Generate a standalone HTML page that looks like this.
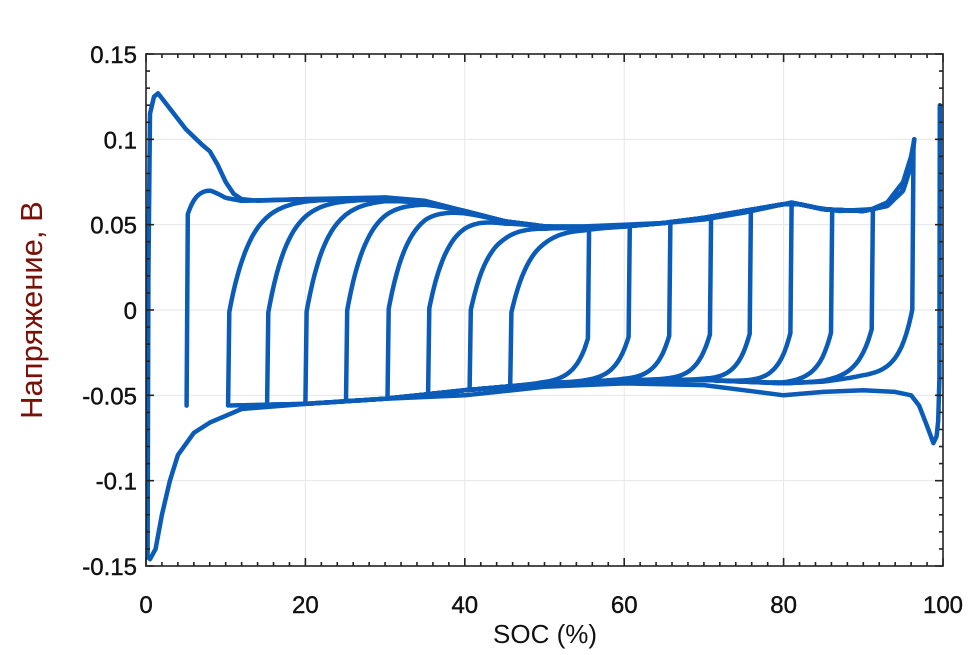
<!DOCTYPE html>
<html><head><meta charset="utf-8"><style>
body{margin:0;background:#fff;width:980px;height:655px;overflow:hidden}
svg{display:block}
text{font-family:"Liberation Sans",sans-serif}
</style></head><body>
<svg id="chart" width="980" height="655"></svg>
<script>
// ---- data ----
const outerChargeX=[0.2,0.25,0.3,0.5,1,1.5,3,5,7,8,9,10,11,12,14,20,30,35,40,45,50,55,60,65,70,75,80,81,84,87,91,93,95,96,96.4];
const outerChargeY=[-0.145,-0.06,0.02,0.115,0.125,0.127,0.118,0.106,0.097,0.093,0.085,0.075,0.068,0.065,0.064,0.065,0.066,0.064,0.058,0.052,0.049,0.049,0.05,0.051,0.053,0.057,0.062,0.063,0.06,0.058,0.059,0.063,0.075,0.09,0.1];
const outerDischargeX=[99.6,99.55,99.4,99.2,98.8,98,97,96,94,90,85,80,75,70,60,50,40,30,20,12,10,8,6,4,3,2,1.2,0.5];
const outerDischargeY=[0.12,-0.04,-0.065,-0.074,-0.078,-0.068,-0.056,-0.05,-0.048,-0.047,-0.048,-0.05,-0.047,-0.044,-0.043,-0.045,-0.05,-0.052,-0.055,-0.058,-0.062,-0.066,-0.072,-0.085,-0.1,-0.12,-0.14,-0.146];
const upperX=[5,8,10,12,20,30,35,40,45,50,55,60,65,70,75,80,82,85,90,93,95,96,96.4];
const upperY=[0.076,0.072,0.066,0.064,0.065,0.065,0.063,0.058,0.052,0.049,0.048,0.049,0.051,0.054,0.058,0.062,0.062,0.059,0.058,0.061,0.07,0.085,0.1];
const lowerX=[0,5,10,20,30,40,50,60,70,80,85,90,96.4];
const lowerY=[-0.058,-0.056,-0.056,-0.055,-0.052,-0.047,-0.043,-0.041,-0.041,-0.043,-0.042,-0.039,-0.037];
const leftStarts=[5.1,10.3,15.2,20,25.1,30.3,35.4,40.6,45.7];
const rightStarts=[55.6,60.7,65.8,70.9,75.9,81,86.1,91.2,96.3];
const xTicks=[0,20,40,60,80,100];
const yTicks=[0.15,0.1,0.05,0,-0.05,-0.1,-0.15];
const yTickLabels=["0.15","0.1","0.05","0","-0.05","-0.1","-0.15"];

// ---- scales ----
const X0=146,X1=943,Y0=54,Y1=566;
const sx=v=>X0+(v/100)*(X1-X0);
const sy=v=>Y0+(0.15-v)/0.3*(Y1-Y0);
const NS="http://www.w3.org/2000/svg";
const svg=document.getElementById('chart');
function mk(tag,attrs,parent){const e=document.createElementNS(NS,tag);for(const k in attrs)e.setAttribute(k,attrs[k]);(parent||svg).appendChild(e);return e;}
function interp(xs,ys,x){if(x<=xs[0])return ys[0];for(let i=1;i<xs.length;i++){if(x<=xs[i]){const t=(x-xs[i-1])/(xs[i]-xs[i-1]);return ys[i-1]+t*(ys[i]-ys[i-1]);}}return ys[ys.length-1];}
const U=x=>interp(upperX,upperY,x), L=x=>interp(lowerX,lowerY,x);

// grid
const grid=mk('g',{});


xTicks.forEach(v=>mk('line',{x1:sx(v),x2:sx(v),y1:Y0,y2:Y1,stroke:'#e6e6e6','stroke-width':1},grid));
yTicks.forEach(v=>mk('line',{x1:X0,x2:X1,y1:sy(v),y2:sy(v),stroke:'#e6e6e6','stroke-width':1},grid));

// series
const series=mk('g',{fill:'none',stroke:'#0a5cb8','stroke-width':4.5,'stroke-linejoin':'round','stroke-linecap':'round'});


function path(pts,name){const d='M'+pts.map(p=>sx(p[0]).toFixed(1)+','+sy(p[1]).toFixed(1)).join('L');const p=mk('path',{d:d},series);}
path(outerChargeX.map((x,i)=>[x,outerChargeY[i]]),'outer-charge-curve');
path(outerDischargeX.map((x,i)=>[x,outerDischargeY[i]]),'outer-discharge-curve');
leftStarts.forEach((x0,k)=>{
  const frac=k===0?0.85:0.45;
  const lo=L(x0),hi=U(x0),mid=lo+frac*(hi-lo);
  const pts=[[x0,lo],[x0+0.15,mid]];
  const g=U(x0+0.15)-mid;
  const tau=k===0?1.2:2.5;
  for(let x=x0+0.3;x<=96.4;x+=0.3){pts.push([x,U(x)-g*Math.exp(-(x-x0-0.15)/tau)]);}
  path(pts,'charge-loop-'+k);
});
rightStarts.forEach((x0,k)=>{
  const hi=U(x0),lo=L(x0),mid=hi-0.72*(hi-lo);
  const pts=[[x0,hi],[x0-0.15,mid]];
  const g=mid-L(x0-0.15);
  const end=Math.max(5,x0-45);
  for(let x=x0-0.3;x>=end;x-=0.3){pts.push([x,L(x)+g*Math.exp(-(x0-0.15-x)/1.6)]);}
  path(pts,'discharge-loop-'+k);
});

// axes box and ticks
const ax=mk('g',{stroke:'#222','stroke-width':1.6});


mk('rect',{x:X0,y:Y0,width:X1-X0,height:Y1-Y0,fill:'none'},ax);
for(let v=0;v<=100;v+=2){const len=v%20===0?8:4;mk('line',{x1:sx(v),x2:sx(v),y1:Y1,y2:Y1-len},ax);mk('line',{x1:sx(v),x2:sx(v),y1:Y0,y2:Y0+len},ax);}
for(let i=0;i<=30;i++){const v=-0.15+i*0.01;const len=i%5===0?8:4;mk('line',{x1:X0,x2:X0+len,y1:sy(v),y2:sy(v)},ax);mk('line',{x1:X1,x2:X1-len,y1:sy(v),y2:sy(v)},ax);}

// tick labels
xTicks.forEach(v=>{const t=mk('text',{x:sx(v),y:613,'text-anchor':'middle','font-size':24,fill:'#111',stroke:'#111','stroke-width':0.4});t.textContent=String(v);});
yTicks.forEach((v,i)=>{const t=mk('text',{x:137,y:sy(v)+9,'text-anchor':'end','font-size':24,fill:'#111',stroke:'#111','stroke-width':0.4});t.textContent=yTickLabels[i];});

const xt=mk('text',{x:545,y:643,'text-anchor':'middle','font-size':26,fill:'#111'});
xt.textContent='SOC (%)';


const yt=mk('text',{x:0,y:0,'text-anchor':'middle','font-size':31,fill:'#7a1008',transform:'translate(42,310) rotate(-90)'});
yt.textContent='Напряжение, В';


</script>
</body></html>
